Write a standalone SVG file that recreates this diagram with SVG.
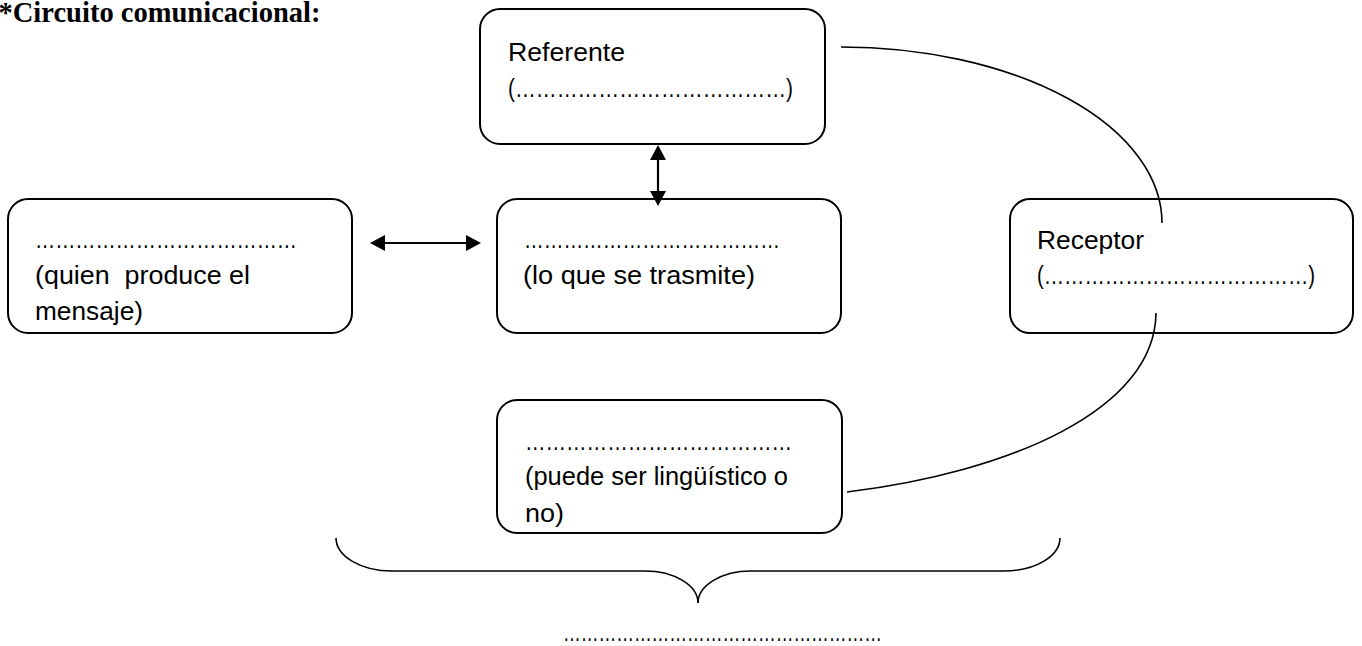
<svg xmlns="http://www.w3.org/2000/svg" width="1362" height="646" viewBox="0 0 1362 646">
  <style>
    .box { fill: #ffffff; stroke: #000; stroke-width: 2; }
    .t { font-family: "Liberation Sans", Arial, sans-serif; font-size: 26px; fill: #000; }
    .title { font-family: "Liberation Serif", "Times New Roman", serif; font-size: 29.3px; font-weight: bold; fill: #000; }
    .curve { fill: none; stroke: #000; stroke-width: 1.6; }
    .arrow { fill: none; stroke: #000; stroke-width: 2.2; marker-start: url(#ah); marker-end: url(#ah); }
  </style>
  <defs>
    <marker id="ah" viewBox="0 0 15 16" refX="12" refY="8" markerWidth="15" markerHeight="16" markerUnits="userSpaceOnUse" orient="auto-start-reverse">
      <path d="M0,0 L15,8 L0,16 Z" fill="#000"/>
    </marker>
  </defs>
  <rect width="1362" height="646" fill="#ffffff"/>

  <g id="title">
    <text class="title" x="-1.5" y="22" textLength="322" lengthAdjust="spacingAndGlyphs">*Circuito comunicacional:</text>
  </g>

  <g id="node-referente">
    <rect class="box" x="480" y="9" width="345" height="135" rx="20"/>
    <text class="t" x="508" y="61" textLength="117" lengthAdjust="spacingAndGlyphs">Referente</text>
    <text class="t" x="508" y="97" textLength="285" lengthAdjust="spacingAndGlyphs">(…………………………………)</text>
  </g>

  <g id="node-emisor">
    <rect class="box" x="8" y="199" width="344" height="134" rx="20"/>
    <text class="t" x="35" y="248" textLength="262" lengthAdjust="spacingAndGlyphs">…………………………………</text>
    <text class="t" x="35" y="284" textLength="215" lengthAdjust="spacingAndGlyphs" xml:space="preserve">(quien  produce el</text>
    <text class="t" x="35" y="320" textLength="108" lengthAdjust="spacingAndGlyphs">mensaje)</text>
  </g>

  <g id="node-mensaje">
    <rect class="box" x="497" y="199" width="344" height="134" rx="20"/>
    <text class="t" x="524" y="248" textLength="256" lengthAdjust="spacingAndGlyphs">…………………………………</text>
    <text class="t" x="523" y="284" textLength="232" lengthAdjust="spacingAndGlyphs">(lo que se trasmite)</text>
  </g>

  <g id="node-receptor">
    <rect class="box" x="1010" y="199" width="343" height="134" rx="20"/>
    <text class="t" x="1037" y="249" textLength="107" lengthAdjust="spacingAndGlyphs">Receptor</text>
    <text class="t" x="1037" y="284" textLength="278" lengthAdjust="spacingAndGlyphs">(…………………………………)</text>
  </g>

  <g id="node-codigo">
    <rect class="box" x="497" y="400" width="345" height="133" rx="20"/>
    <text class="t" x="525" y="450" textLength="267" lengthAdjust="spacingAndGlyphs">…………………………………</text>
    <text class="t" x="525" y="485" textLength="263" lengthAdjust="spacingAndGlyphs">(puede ser lingüístico o</text>
    <text class="t" x="525" y="522" textLength="39" lengthAdjust="spacingAndGlyphs">no)</text>
  </g>

  <g id="connectors">
    <line class="arrow" x1="373" y1="243" x2="478" y2="243"/>
    <line class="arrow" x1="658" y1="148" x2="658" y2="203"/>
    <path class="curve" d="M 841 47 A 321 176 0 0 1 1162 223"/>
    <path class="curve" d="M 1156 313 C 1155 410, 1010 472, 847 492"/>
  </g>

  <g id="brace">
    <path class="curve" d="M 336 538 A 56 33 0 0 0 392 571 L 645 571 A 53 32 0 0 1 698 603"/>
    <path class="curve" d="M 1060 538 A 56 33 0 0 1 1004 571 L 751 571 A 53 32 0 0 0 698 603"/>
    <text class="t" x="563" y="641" textLength="319" lengthAdjust="spacingAndGlyphs">………………………………………………</text>
  </g>
</svg>
